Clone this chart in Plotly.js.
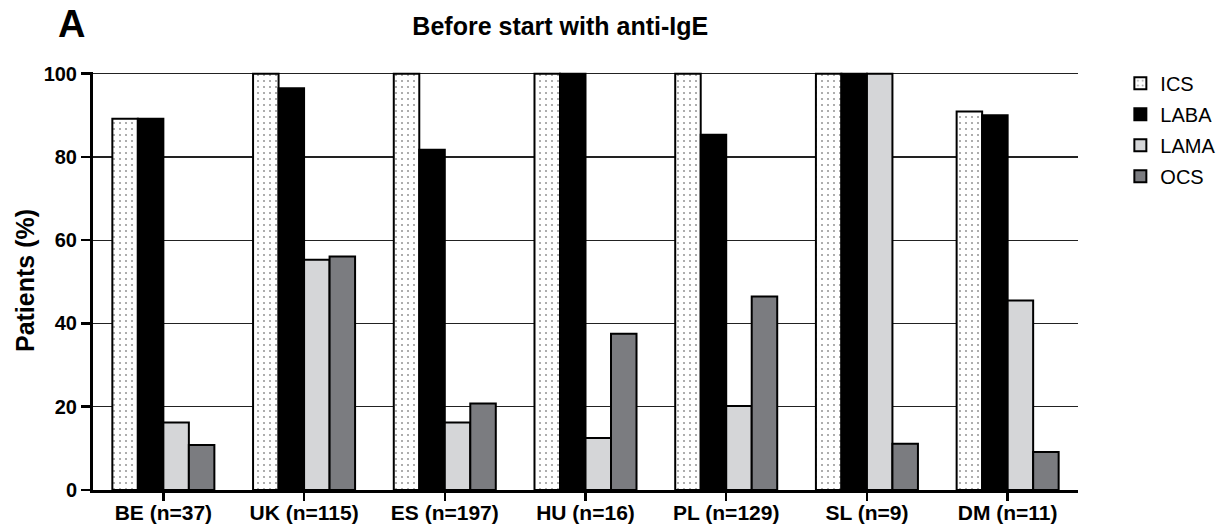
<!DOCTYPE html>
<html>
<head>
<meta charset="utf-8">
<script src="https://cdn.plot.ly/plotly-3.0.1.min.js"></script>
<style>html,body{margin:0;padding:0;background:#fff;}#chart{width:1226px;height:529px;}</style>
</head>
<body>
<div id="chart"></div>
<script>
const categories = ["BE (n=37)", "UK (n=115)", "ES (n=197)", "HU (n=16)", "PL (n=129)", "SL (n=9)", "DM (n=11)"];
const ICS  = [89.2, 100, 100, 100, 100, 100, 90.9];
const LABA = [89.2, 96.5, 81.7, 100, 85.3, 100, 90.0];
const LAMA = [16.2, 55.3, 16.2, 12.5, 20.2, 100, 45.5];
const OCS  = [10.8, 56.1, 20.8, 37.5, 46.5, 11.1, 9.1];
const yTicks = [0, 20, 40, 60, 80, 100];

const FONT = "Liberation Sans, Arial, Helvetica, sans-serif";
const outline = {color: "#000", width: 2};

const traces = [
  {name: "ICS", y: ICS, legendgroup: "a",
   marker: {color: "#ffffff", line: outline,
            pattern: {shape: ".", bgcolor: "#ffffff", fgcolor: "#333", size: 6, solidity: 0.1, fillmode: "overlay"}}},
  {name: "LABA", y: LABA, legendgroup: "b", marker: {color: "#000000", line: outline}},
  {name: "LAMA", y: LAMA, legendgroup: "c", marker: {color: "#d5d6d8", line: outline}},
  {name: "OCS", y: OCS, legendgroup: "d", marker: {color: "#7b7c80", line: outline}}
].map(t => Object.assign({type: "bar", x: categories, hoverinfo: "y+name"}, t));

const layout = {
  width: 1226, height: 529,
  margin: {l: 93, r: 148, t: 72, b: 39, autoexpand: false},
  paper_bgcolor: "#fff", plot_bgcolor: "#fff",
  font: {family: FONT, color: "#000"},
  barmode: "group", bargap: 0.275, bargroupgap: 0,
  title: {text: "<b>Before start with anti-IgE</b>", font: {size: 25, family: FONT, color: "#000"},
          xref: "container", x: 0.457, xanchor: "center", yref: "container", y: 0.951, yanchor: "middle"},
  xaxis: {
    type: "category", range: [-0.5, 6.5], automargin: false,
    showline: true, linecolor: "#000", linewidth: 3,
    ticks: "outside", ticklen: 8, tickwidth: 2.5, tickcolor: "#000",
    ticklabelstandoff: -6,
    tickfont: {size: 21, family: FONT, weight: "bold"},
    showgrid: false, zeroline: false, fixedrange: true
  },
  yaxis: {
    range: [0, 100.4], tickvals: yTicks, ticktext: yTicks.map(String), automargin: false,
    showline: true, linecolor: "#000", linewidth: 3,
    ticks: "outside", ticklen: 9, tickwidth: 2.5, tickcolor: "#000",
    tickfont: {size: 20, family: FONT, weight: "bold"},
    showgrid: true, gridcolor: "#222", gridwidth: 1.3,
    zeroline: false, fixedrange: true
  },
  legend: {x: 1.043, xanchor: "left", y: 1.02, yanchor: "top",
           font: {size: 20, family: FONT}, traceorder: "grouped", tracegroupgap: 2,
           bgcolor: "rgba(0,0,0,0)"},
  annotations: [
    {text: "<b>A</b>", xref: "paper", yref: "paper", x: -0.0223, y: 1.115,
     xanchor: "center", yanchor: "middle", showarrow: false, font: {size: 38, family: FONT}},
    {text: "<b>Patients (%)</b>", xref: "paper", yref: "paper", x: -0.069, y: 0.5,
     xanchor: "center", yanchor: "middle", textangle: -90, showarrow: false, font: {size: 25, family: FONT}}
  ]
};

Plotly.newPlot("chart", traces, layout, {displayModeBar: false, staticPlot: true});
</script>
</body>
</html>
